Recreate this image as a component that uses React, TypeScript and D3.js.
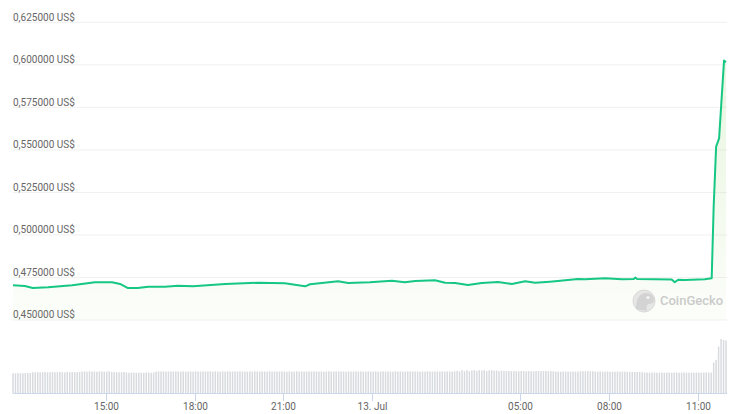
import React from "react";
import * as d3 from "d3";

const W = 747;
const H = 414;

const priceTimes = [
  "2023-07-12T11:52", "2023-07-12T12:16", "2023-07-12T12:32", "2023-07-12T13:03", "2023-07-12T13:52",
  "2023-07-12T14:38", "2023-07-12T15:13", "2023-07-12T15:29", "2023-07-12T15:45", "2023-07-12T16:05",
  "2023-07-12T16:26", "2023-07-12T17:00", "2023-07-12T17:26", "2023-07-12T17:57", "2023-07-12T19:02",
  "2023-07-12T20:08", "2023-07-12T21:03", "2023-07-12T21:30", "2023-07-12T21:44", "2023-07-12T21:54",
  "2023-07-12T22:51", "2023-07-12T23:11", "2023-07-12T23:55", "2023-07-13T00:40", "2023-07-13T01:06",
  "2023-07-13T01:27", "2023-07-13T02:07", "2023-07-13T02:28", "2023-07-13T02:48", "2023-07-13T03:14",
  "2023-07-13T03:42", "2023-07-13T04:15", "2023-07-13T04:43", "2023-07-13T05:10", "2023-07-13T05:30",
  "2023-07-13T06:00", "2023-07-13T06:16", "2023-07-13T06:57", "2023-07-13T07:11", "2023-07-13T07:52",
  "2023-07-13T08:26", "2023-07-13T08:50", "2023-07-13T08:53", "2023-07-13T08:57", "2023-07-13T09:33",
  "2023-07-13T10:07", "2023-07-13T10:13", "2023-07-13T10:20", "2023-07-13T10:34", "2023-07-13T11:14",
  "2023-07-13T11:28", "2023-07-13T11:32", "2023-07-13T11:37", "2023-07-13T11:43", "2023-07-13T11:53",
  "2023-07-13T11:57",
];

const prices = [
  0.4704, 0.4700, 0.4688, 0.4692, 0.4704,
  0.4722, 0.4722, 0.4712, 0.4688, 0.4688,
  0.4696, 0.4696, 0.4702, 0.4698, 0.4712,
  0.4719, 0.4716, 0.4704, 0.4698, 0.4710,
  0.4728, 0.4718, 0.4722, 0.4731, 0.4722,
  0.4729, 0.4734, 0.4719, 0.4718, 0.4706,
  0.4718, 0.4724, 0.4712, 0.4728, 0.4719,
  0.4725, 0.4729, 0.4741, 0.4739, 0.4745,
  0.4739, 0.4741, 0.4749, 0.4741, 0.4739,
  0.4738, 0.4722, 0.4737, 0.4735, 0.4739,
  0.4745, 0.5166, 0.5519, 0.5568, 0.6025,
  0.6015,
];

const volumeStart = "2023-07-12T11:52";
const volumeStepMinutes = 5;
const volumes = [
  20.0, 19.8, 20.1, 20.0, 19.9, 20.2, 20.0, 20.1, 21.0, 20.8,
  21.1, 20.9, 21.0, 21.2, 20.7, 21.0, 21.1, 20.9, 21.0, 21.3,
  21.0, 20.8, 21.2, 21.0, 21.1, 20.9, 21.0, 21.2, 21.6, 21.8,
  21.5, 21.9, 21.6, 21.7, 21.4, 21.8, 21.6, 21.5, 21.7, 21.9,
  21.3, 21.0, 21.1, 20.9, 21.0, 21.2, 20.6, 20.4, 20.6, 20.5,
  20.4, 20.6, 20.5, 20.3, 20.6, 20.5, 20.4, 20.7, 21.6, 21.8,
  21.7, 21.9, 21.6, 21.7, 21.8, 21.6, 21.9, 21.7, 21.6, 21.8,
  21.5, 21.7, 21.8, 21.6, 21.9, 21.7, 21.5, 21.8, 21.6, 21.7,
  21.9, 21.6, 21.8, 21.7, 21.5, 21.9, 21.6, 21.8, 21.7, 21.6,
  21.8, 21.7, 21.9, 21.6, 21.7, 21.5, 21.8, 21.6, 21.9, 21.7,
  21.6, 21.8, 21.7, 21.5, 21.9, 21.6, 21.8, 21.7, 21.6, 21.9,
  21.7, 21.5, 21.8, 21.6, 21.7, 21.9, 21.6, 21.8, 21.5, 21.7,
  21.8, 21.6, 21.9, 21.7, 21.6, 21.8, 21.5, 21.7, 21.9, 21.6,
  21.7, 21.8, 21.6, 21.9, 21.7, 21.5, 21.8, 21.6, 21.7, 21.9,
  21.6, 21.8, 21.7, 21.6, 21.9, 21.7, 21.5, 21.8, 21.6, 21.7,
  21.9, 21.6, 21.8, 21.7, 21.5, 21.9, 21.6, 21.8, 21.7, 21.6,
  21.8, 21.7, 21.9, 21.6, 21.7, 21.5, 21.8, 21.6, 21.9, 21.7,
  21.6, 21.8, 21.7, 21.5, 21.9, 21.6, 21.8, 21.7, 21.6, 21.9,
  22.4, 21.8, 23.1, 22.0, 23.0, 21.9, 22.8, 23.2, 22.1, 23.0,
  22.6, 23.1, 22.2, 22.9, 23.0, 22.4, 22.8, 22.1, 22.6, 22.3,
  22.0, 22.2, 21.9, 22.1, 22.0, 21.8, 22.2, 22.0, 21.9, 22.1,
  22.0, 21.8, 22.2, 22.1, 21.9, 22.0, 22.2, 21.8, 22.1, 22.0,
  21.5, 21.6, 21.4, 21.7, 21.5, 21.6, 21.4, 21.7, 21.5, 21.6,
  21.9, 22.0, 21.8, 22.1, 22.0, 21.9, 21.6, 21.5, 21.7, 21.6,
  21.5, 21.7, 21.4, 21.6, 21.5, 21.7, 21.4, 21.6, 21.5, 21.3,
  21.4, 21.2, 21.3, 21.1, 21.2, 21.0, 20.6, 20.7, 20.5, 20.6,
  20.7, 20.5, 20.6, 20.6, 20.5, 20.7, 20.6, 20.5, 20.6, 20.7,
  20.5, 20.6, 20.7, 20.5, 20.6, 20.6, 20.5, 20.7, 20.6, 20.5,
  20.6, 20.7, 20.5, 20.6, 30.6, 33.3, 46.6, 54.0, 53.0, 52.6,
];

const yTicks = [0.45, 0.475, 0.5, 0.525, 0.55, 0.575, 0.6, 0.625];
const xTickTimes = [
  "2023-07-12T15:00", "2023-07-12T18:00", "2023-07-12T21:00", "2023-07-13T00:00",
  "2023-07-13T05:00", "2023-07-13T08:00", "2023-07-13T11:00",
];
const domainStart = "2023-07-12T11:52";
const domainEnd = "2023-07-13T11:57";

const parse = d3.utcParse("%Y-%m-%dT%H:%M");
const FONT = "Roboto, 'Noto Sans', sans-serif";

export default function App() {
  const x = d3.scaleUtc().domain([parse(domainStart)!, parse(domainEnd)!]).range([13, 726]);
  const y = d3.scaleLinear().domain([0.45, 0.625]).range([320, 22.3]);
  const yv = d3.scaleLinear().domain([0, 54]).range([393.3, 339]);

  const pts = priceTimes.map((t, i) => ({ t: parse(t)!, v: prices[i] }));
  const line = d3.line<{ t: Date; v: number }>().x((d) => x(d.t)).y((d) => y(d.v));
  const area = d3
    .area<{ t: Date; v: number }>()
    .x((d) => x(d.t))
    .y0(y(0.45))
    .y1((d) => y(d.v));

  const vStart = parse(volumeStart)!;
  const vols = volumes.map((v, i) => ({ t: d3.utcMinute.offset(vStart, i * volumeStepMinutes), v }));
  const step = x(d3.utcMinute.offset(vStart, volumeStepMinutes)) - x(vStart);
  const bw = step - 1;

  const fmtY = (v: number) => v.toFixed(6).replace(".", ",") + " US$";
  const fmtX = (d: Date) => (d.getUTCHours() === 0 ? d3.utcFormat("%-d. %b")(d) : d3.utcFormat("%H:%M")(d));

  return (
    <svg
      width={W}
      height={H}
      style={{ position: "absolute", left: 0, top: 0, background: "#fff" }}
      fontFamily={FONT}
    >
      <defs>
        <linearGradient id="fillGrad" gradientUnits="userSpaceOnUse" x1="0" y1={y(0.625)} x2="0" y2={y(0.45)}>
          <stop offset="0" stopColor="#8ccf5a" stopOpacity={0.22} />
          <stop offset="1" stopColor="#8ccf5a" stopOpacity={0.03} />
        </linearGradient>
      </defs>

      {yTicks.map((t) => (
        <g key={t}>
          <line x1={13} x2={727} y1={y(t)} y2={y(t)} stroke="#f0f0f0" strokeWidth={1} />
          <text x={13} y={y(t) - 1.6} fontSize={10} fill="#666">
            {fmtY(t)}
          </text>
        </g>
      ))}

      <path d={area(pts)!} fill="url(#fillGrad)" />
      <path d={line(pts)!} fill="none" stroke="#16c784" strokeWidth={2} strokeLinejoin="round" />

      {/* watermark */}
      <g opacity={0.9}>
        <circle cx={644} cy={301} r={11} fill="#e4e4e4" stroke="#d6d6d6" strokeWidth={1} />
        <path d="M636,309 C636,298 640,293 646,293 C651,293 654,296 654,300 C654,303 651,304 648,304 C646,306 646,309 647,311 Z" fill="#cfcfcf" />
        <circle cx={648} cy={297.5} r={1.6} fill="#f4f4f4" />
        <text x={660} y={305} fontSize={13} fill="#c6c6c6" fontWeight={500}>
          CoinGecko
        </text>
      </g>

      {vols.map((d, i) => (
        <rect key={i} x={x(d.t) - bw / 2} y={yv(d.v)} width={bw} height={yv(0) - yv(d.v)} fill="#d7dade" />
      ))}

      <line x1={13} x2={727} y1={393.5} y2={393.5} stroke="#ccd6eb" strokeWidth={1} />
      {xTickTimes.map((s) => {
        const d = parse(s)!;
        const px = Math.round(x(d)) + 0.5;
        return (
          <g key={s}>
            <line x1={px} x2={px} y1={393.5} y2={401} stroke="#ccd6eb" strokeWidth={1} />
            <text x={px} y={409.5} fontSize={10} fill="#666" textAnchor="middle">
              {fmtX(d)}
            </text>
          </g>
        );
      })}
    </svg>
  );
}
